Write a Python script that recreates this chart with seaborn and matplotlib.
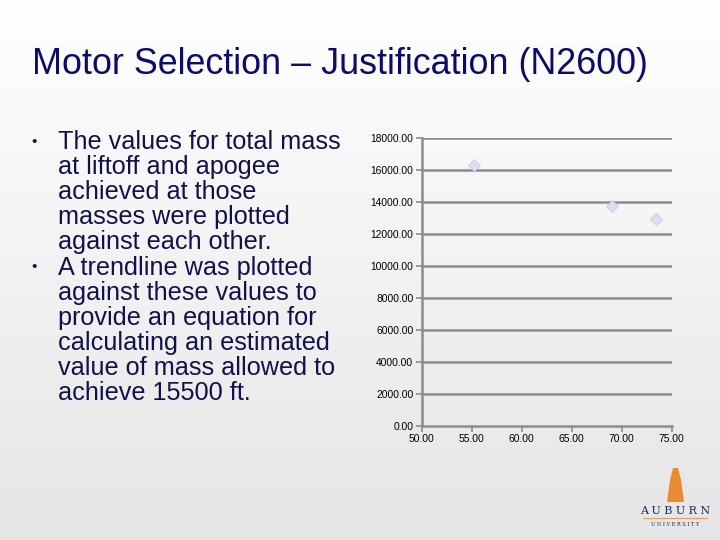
import numpy as np
import pandas as pd
import matplotlib
matplotlib.use("Agg")
import matplotlib.pyplot as plt
import seaborn as sns

# Data
mass = [55.2, 69.0, 73.4]
apogee = [16290, 13750, 12920]
x_ticks = [50, 55, 60, 65, 70, 75]
y_ticks = [0, 2000, 4000, 6000, 8000, 10000, 12000, 14000, 16000, 18000]

title = "Motor Selection \u2013 Justification (N2600)"
bullets = [
    "The values for total mass\nat liftoff and apogee\nachieved at those\nmasses were plotted\nagainst each other.",
    "A trendline was plotted\nagainst these values to\nprovide an equation for\ncalculating an estimated\nvalue of mass allowed to\nachieve 15500 ft.",
]

sns.set_theme(style="white")
plt.rcParams['font.family'] = ['Liberation Sans', 'DejaVu Sans']

fig = plt.figure(figsize=(7.2, 5.4), dpi=100)

# background gradient
bg = fig.add_axes([0, 0, 1, 1], zorder=-10)
grad = np.linspace(1.0, 0.90, 256).reshape(-1, 1)
bg.imshow(np.dstack([grad, grad, grad]), aspect='auto', extent=[0, 1, 0, 1])
bg.set_axis_off()

fig.text(32/720, 1 - 65/540, title, fontsize=25.8, color='#0b0b6b',
         ha='left', va='center')

txt_color = '#12124a'
# bullets
y0 = 142
line_h = 25.1
line_idx = 0
for b in bullets:
    lines = b.split("\n")
    fig.text(34/720, 1 - (y0 + line_idx*line_h)/540, "\u2022", fontsize=11,
             color=txt_color, ha='center', va='center')
    for ln in lines:
        fig.text(58/720, 1 - (y0 + line_idx*line_h)/540, ln, fontsize=18.2,
                 color=txt_color, ha='left', va='center')
        line_idx += 1

# chart
ax = fig.add_axes([421.7/720, 1 - 425.7/540, 250/720, (425.7-137.7)/540])
ax.set_facecolor('none')
df = pd.DataFrame({"mass": mass, "apogee": apogee})
sns.scatterplot(data=df, x="mass", y="apogee", ax=ax, marker='D', s=38,
                color='#dcdcf4', edgecolor='#cbcbec', linewidth=0.6, zorder=5)
ax.set_xlim(50, 75)
ax.set_ylim(0, 18000)
ax.set_xticks(x_ticks)
ax.set_yticks(y_ticks)
ax.set_xticklabels([f"{v:.2f}" for v in x_ticks], fontsize=7.4)
ax.set_yticklabels([f"{v:.2f}" for v in y_ticks], fontsize=7.4)
ax.set_xlabel("")
ax.set_ylabel("")
for yv in y_ticks[1:]:
    ax.axhline(yv, color='#8c8c8c', lw=1.8, zorder=1)
for s in ['top', 'right']:
    ax.spines[s].set_visible(False)
for s in ['left', 'bottom']:
    ax.spines[s].set_color('#8c8c8c')
    ax.spines[s].set_linewidth(1.8)
ax.tick_params(axis='both', which='both', direction='out', length=4,
               width=1.2, color='#8c8c8c', pad=2, labelcolor='black')
ax.tick_params(axis='y', left=True)
ax.tick_params(axis='x', bottom=True)

# logo (approximation)
fig.text(675/720, 1 - 511/540, "A U B U R N", fontsize=8, family='DejaVu Serif',
         color='#1a2a5a', ha='center', va='center')
fig.add_artist(plt.Line2D([643/720, 707/720], [1 - 518/540, 1 - 518/540],
                          color='#e8a060', lw=0.8))
fig.text(675/720, 1 - 525/540, "U N I V E R S I T Y", fontsize=3.6,
         family='DejaVu Serif', color='#1a2a5a', ha='center', va='center')
fig.add_artist(plt.Polygon([(667/720, 1 - 502/540), (684/720, 1 - 502/540),
                            (681/720, 1 - 480/540), (678/720, 1 - 468/540),
                            (673/720, 1 - 468/540), (670/720, 1 - 480/540)],
                           closed=True, color='#e88a30', lw=0))

fig.savefig("out.png", dpi=100)
